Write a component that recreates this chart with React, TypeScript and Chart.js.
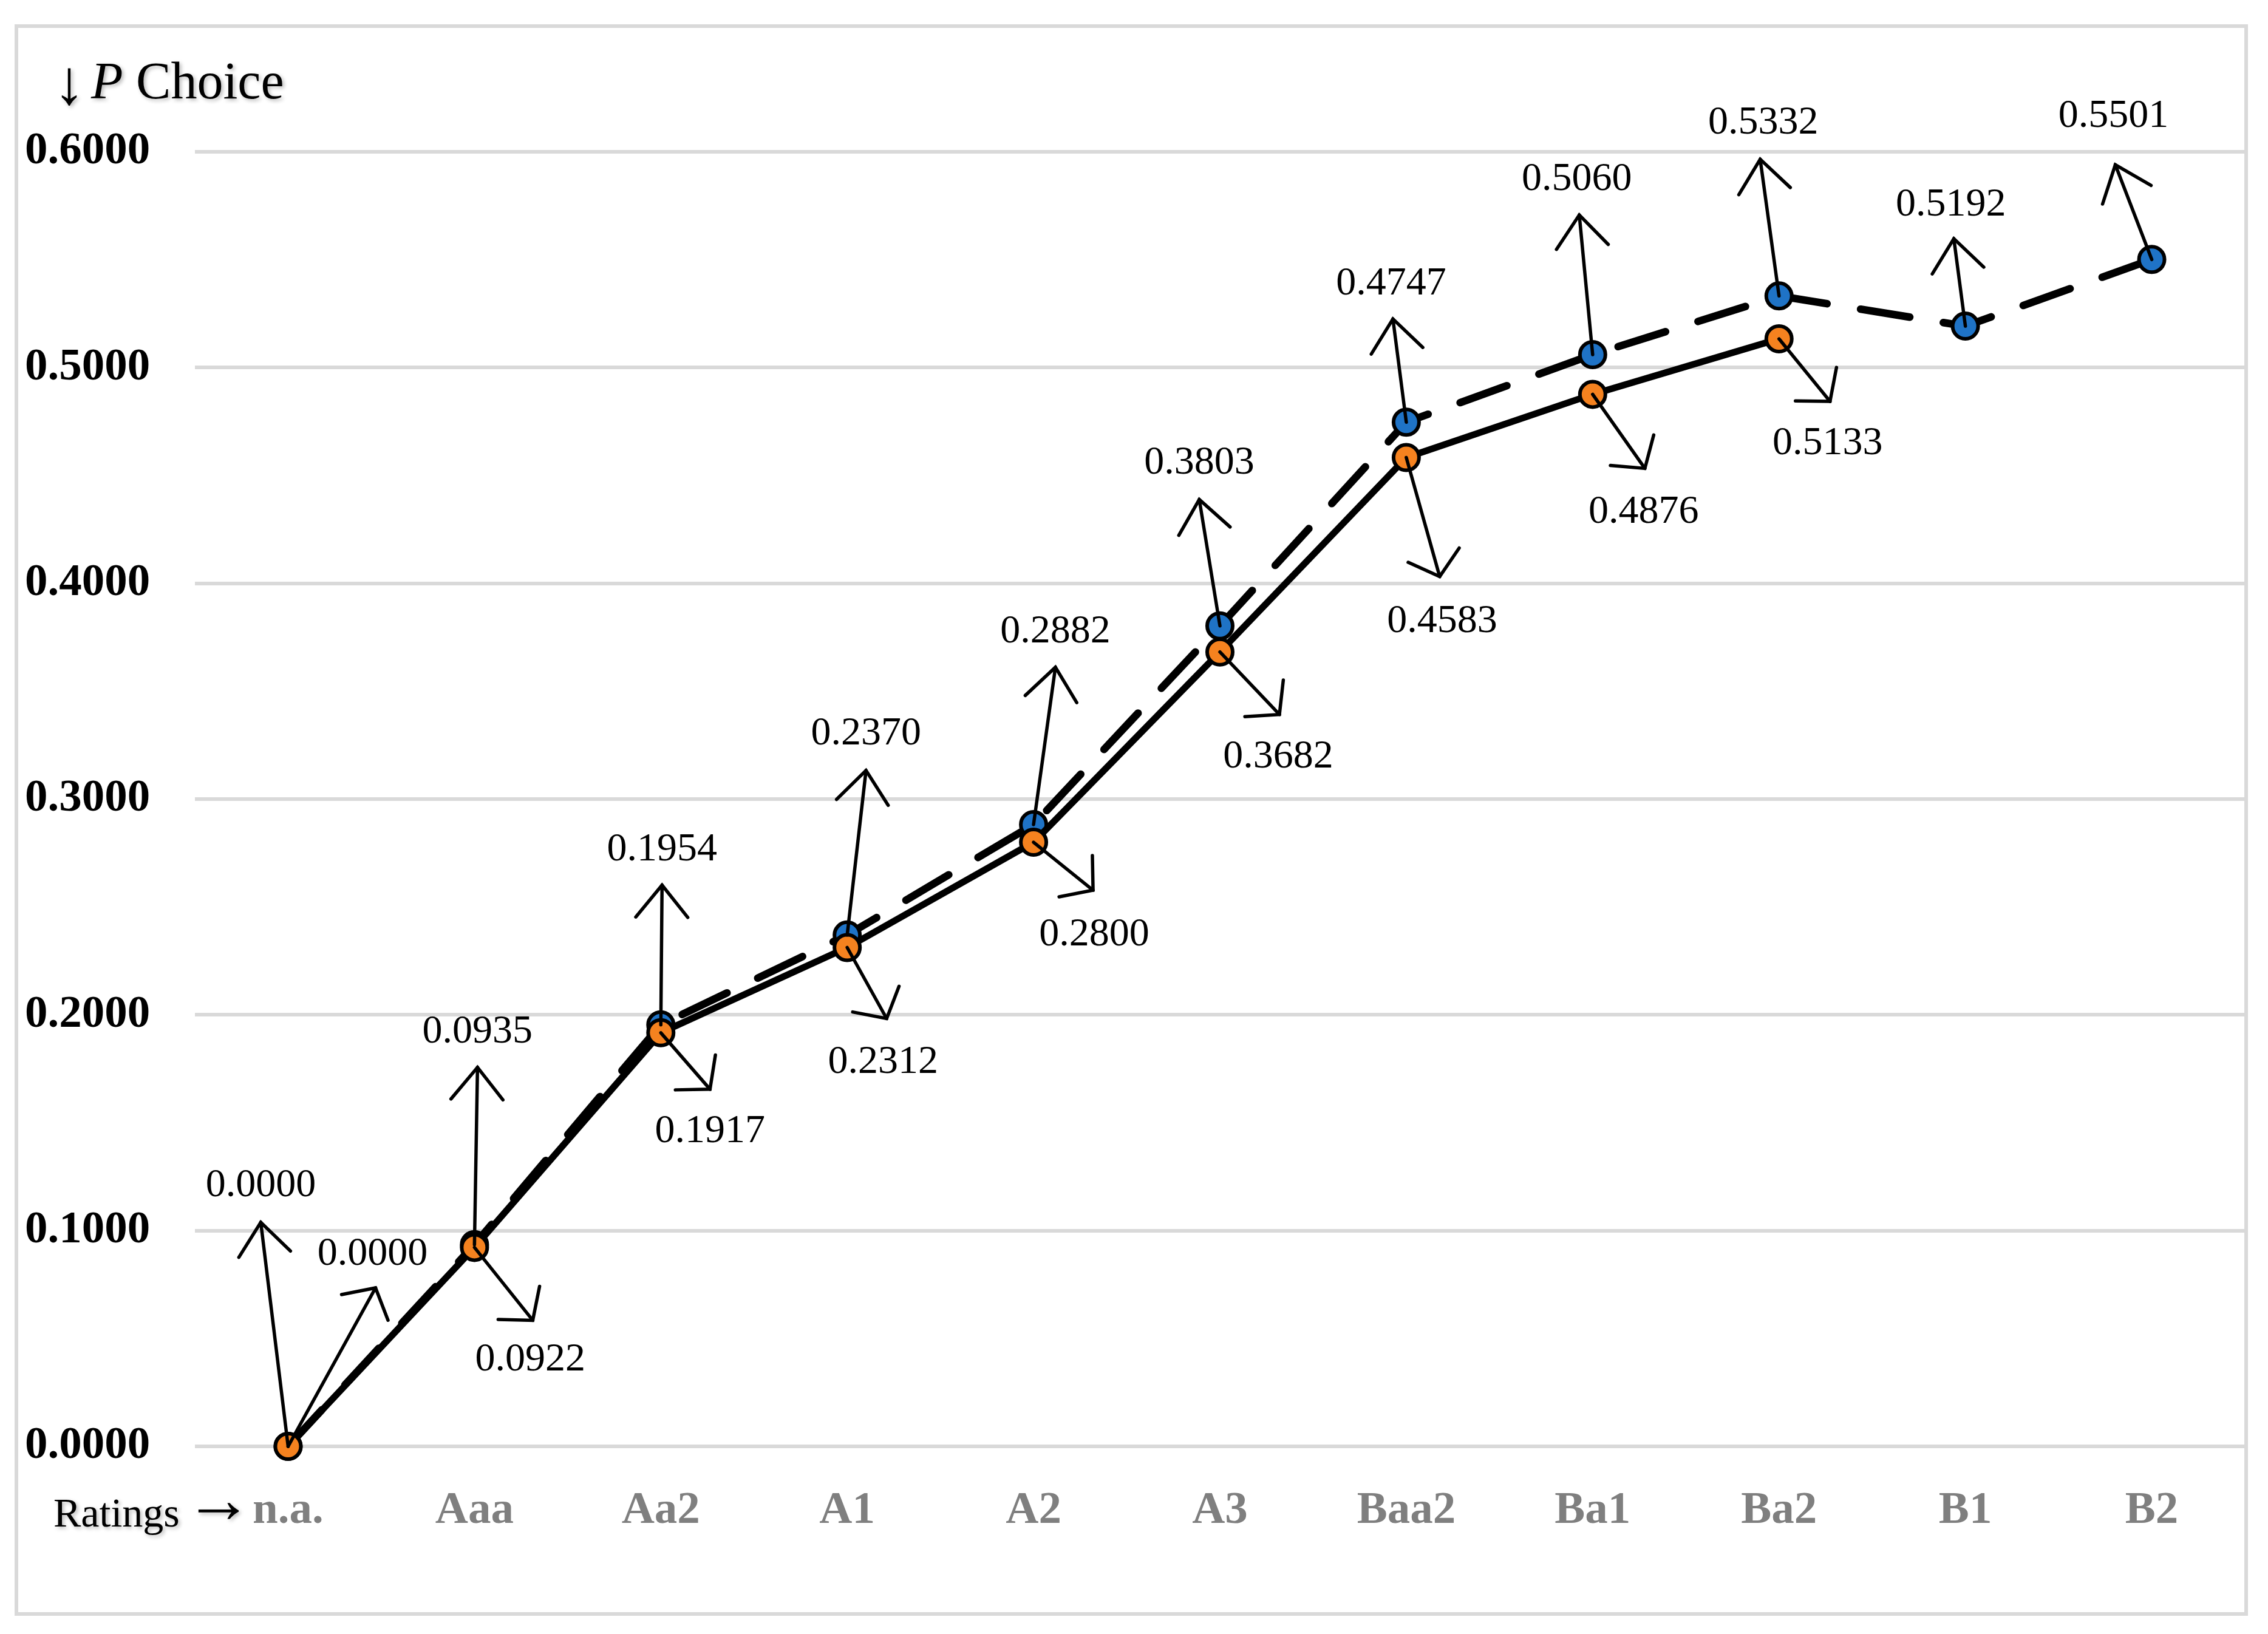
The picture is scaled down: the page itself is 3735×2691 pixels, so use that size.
import React, { useEffect, useRef } from "react";
import { Chart, registerables } from "chart.js";

Chart.register(...registerables);

// ---------- data ----------
const categories = ["n.a.", "Aaa", "Aa2", "A1", "A2", "A3", "Baa2", "Ba1", "Ba2", "B1", "B2"];
const seriesBlue = [0.0, 0.0935, 0.1954, 0.237, 0.2882, 0.3803, 0.4747, 0.506, 0.5332, 0.5192, 0.5501];
const seriesOrange = [0.0, 0.0922, 0.1917, 0.2312, 0.28, 0.3682, 0.4583, 0.4876, 0.5133, null, null];
const yMin = 0;
const yMax = 0.6;
const yStep = 0.1;

// annotation arrow geometry (pixel offsets of tip from point, and of label from tip)
const blueArrowTip = [[-45, -369], [5, -292], [2, -230], [31, -271], [36, -259], [-34, -208], [-22, -170], [-22, -230], [-31, -225], [-19, -144], [-60, -156]];
const blueLabelOff = [[0, -60], [0, -58], [0, -58], [0, -60], [0, -58], [0, -60], [-3, -58], [-4, -58], [5, -60], [-5, -55], [-3, -80]];
const orangeArrowTip = [[144, -261], [96, 120], [81, 93], [65, 117], [98, 79], [98, 103], [55, 196], [86, 122], [84, 103]];
const orangeLabelOff = [[-5, -55], [-4, 65], [0, 70], [-6, 72], [2, 74], [-2, 70], [4, 74], [-2, 72], [-4, 70]];

const FONT = "'Liberation Serif', 'Times New Roman', serif";

function drawArrow(ctx: CanvasRenderingContext2D, x0: number, y0: number, x1: number, y1: number, headLen: number, headAng: number) {
  ctx.beginPath();
  ctx.moveTo(x0, y0);
  ctx.lineTo(x1, y1);
  ctx.stroke();
  const ang = Math.atan2(y0 - y1, x0 - x1);
  ctx.beginPath();
  ctx.moveTo(x1 + headLen * Math.cos(ang + headAng), y1 + headLen * Math.sin(ang + headAng));
  ctx.lineTo(x1, y1);
  ctx.lineTo(x1 + headLen * Math.cos(ang - headAng), y1 + headLen * Math.sin(ang - headAng));
  ctx.stroke();
}

const annotPlugin = {
  id: "annot",
  beforeDraw(chart: any) {
    const ctx = chart.ctx as CanvasRenderingContext2D;
    ctx.save();
    ctx.fillStyle = "#ffffff";
    ctx.fillRect(0, 0, chart.width, chart.height);
    ctx.strokeStyle = "#D9D9D9";
    ctx.lineWidth = 6;
    ctx.strokeRect(27, 43, 3672, 2615);
    ctx.restore();
  },
  afterDatasetsDraw(chart: any) {
    const ctx = chart.ctx as CanvasRenderingContext2D;
    ctx.save();
    ctx.strokeStyle = "#000";
    ctx.fillStyle = "#000";
    ctx.lineWidth = 5.5;
    ctx.lineCap = "round";
    ctx.lineJoin = "miter";
    ctx.font = `66px ${FONT}`;
    ctx.textAlign = "center";
    ctx.textBaseline = "middle";
    const sets = [
      { idx: 1, values: seriesBlue, tips: blueArrowTip, labels: blueLabelOff, len: 68, ang: (39 * Math.PI) / 180 },
      { idx: 0, values: seriesOrange, tips: orangeArrowTip, labels: orangeLabelOff, len: 57, ang: (50 * Math.PI) / 180 },
    ];
    sets.forEach((s) => {
      const meta = chart.getDatasetMeta(s.idx);
      s.values.forEach((v: number | null, i: number) => {
        if (v === null || !s.tips[i]) return;
        const pt = meta.data[i];
        const tx = pt.x + s.tips[i][0];
        const ty = pt.y + s.tips[i][1];
        drawArrow(ctx, pt.x, pt.y, tx, ty, s.len, s.ang);
        ctx.fillText(v.toFixed(4), tx + s.labels[i][0], ty + s.labels[i][1]);
      });
    });
    ctx.restore();
  },
  afterDraw(chart: any) {
    const ctx = chart.ctx as CanvasRenderingContext2D;
    ctx.save();
    ctx.fillStyle = "#000";
    ctx.shadowColor = "rgba(0,0,0,0.28)";
    ctx.shadowBlur = 6;
    ctx.shadowOffsetX = 3;
    ctx.shadowOffsetY = 3;
    ctx.textBaseline = "alphabetic";
    ctx.textAlign = "left";
    // y-axis title
    let x = 88;
    const yb = 162;
    ctx.font = `104px ${FONT}`;
    ctx.fillText("\u2193", x, yb + 9);
    x = 150;
    ctx.font = `italic 86px ${FONT}`;
    ctx.fillText("P", x, yb);
    x += ctx.measureText("P").width;
    ctx.font = `86px ${FONT}`;
    ctx.fillText(" Choice", x, yb);
    // x-axis title
    ctx.font = `68px ${FONT}`;
    ctx.fillText("Ratings", 88, 2514);
    ctx.font = `112px ${FONT}`;
    ctx.textAlign = "center";
    ctx.textBaseline = "middle";
    ctx.fillText("\u2192", 360, 2478);
    ctx.restore();
  },
};

export default function App() {
  const ref = useRef<HTMLCanvasElement | null>(null);
  useEffect(() => {
    if (!ref.current) return;
    const chart = new Chart(ref.current, {
      type: "line",
      data: {
        labels: categories,
        datasets: [
          {
            label: "Orange",
            data: seriesOrange,
            borderColor: "#000",
            borderWidth: 11,
            pointBackgroundColor: "#F5821F",
            pointBorderColor: "#000",
            pointBorderWidth: 6,
            pointRadius: 21,
            tension: 0,
            spanGaps: false,
            clip: false,
          } as any,
          {
            label: "Blue",
            data: seriesBlue,
            borderColor: "#000",
            borderWidth: 12.5,
            borderDash: [82, 56],
            borderCapStyle: "round",
            pointBackgroundColor: "#1F73C6",
            pointBorderColor: "#000",
            pointBorderWidth: 6,
            pointRadius: 21,
            tension: 0,
            clip: false,
          } as any,
        ],
      },
      options: {
        responsive: false,
        animation: false,
        devicePixelRatio: 1,
        layout: { padding: { left: 41, top: 250, right: 38, bottom: 109 } },
        plugins: { legend: { display: false }, tooltip: { enabled: false } },
        scales: {
          x: {
            type: "category",
            offset: true,
            grid: { display: false, drawTicks: false, offset: true },
            border: { display: false },
            ticks: {
              color: "#7F7F7F",
              font: { family: FONT, size: 75, weight: "bold" },
              padding: 62,
              maxRotation: 0,
              autoSkip: false,
            },
            afterFit(s: any) {
              s.height = 200;
            },
          },
          y: {
            min: yMin,
            max: yMax,
            grid: { color: "#D9D9D9", lineWidth: 6, drawTicks: false },
            border: { display: false },
            ticks: {
              stepSize: yStep,
              crossAlign: "far",
              padding: 0,
              color: "#000",
              font: { family: FONT, size: 75, weight: "bold" },
              callback: (v: any) => Number(v).toFixed(4),
            },
            afterFit(s: any) {
              s.width = 280;
            },
          },
        },
      } as any,
      plugins: [annotPlugin],
    });
    return () => chart.destroy();
  }, []);
  return (
    <div style={{ position: "fixed", left: 0, top: 0, width: 3735, height: 2691, background: "#fff" }}>
      <canvas ref={ref} width={3735} height={2691} style={{ width: 3735, height: 2691, display: "block" }} />
    </div>
  );
}
